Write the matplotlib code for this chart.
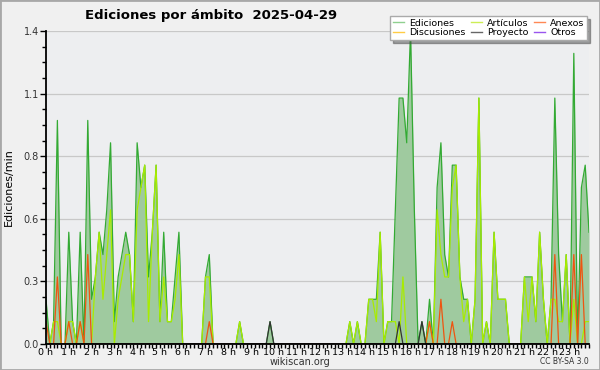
import numpy as np
import matplotlib.pyplot as plt
from matplotlib.lines import Line2D
from matplotlib.patches import Rectangle
from matplotlib.ticker import FixedLocator, MultipleLocator, FormatStrFormatter

# edits per minute, one value per 10-minute slot (6 per hour, one row per hour)
total = [
    0.2, 0.0, 0.1, 1.0, 0.0, 0.0,
    0.5, 0.1, 0.0, 0.5, 0.0, 1.0,
    0.2, 0.3, 0.5, 0.4, 0.6, 0.9,
    0.1, 0.3, 0.4, 0.5, 0.4, 0.1,
    0.9, 0.7, 0.8, 0.3, 0.5, 0.8,
    0.1, 0.5, 0.1, 0.1, 0.3, 0.5,
    0.0, 0.0, 0.0, 0.0, 0.0, 0.0,
    0.3, 0.4, 0.0, 0.0, 0.0, 0.0,
    0.0, 0.0, 0.0, 0.1, 0.0, 0.0,
    0.0, 0.0, 0.0, 0.0, 0.0, 0.1,
    0.0, 0.0, 0.0, 0.0, 0.0, 0.0,
    0.0, 0.0, 0.0, 0.0, 0.0, 0.0,
    0.0, 0.0, 0.0, 0.0, 0.0, 0.0,
    0.0, 0.0, 0.1, 0.0, 0.1, 0.0,
    0.0, 0.2, 0.2, 0.2, 0.5, 0.0,
    0.1, 0.1, 0.6, 1.1, 1.1, 0.9,
    1.4, 0.6, 0.0, 0.1, 0.0, 0.2,
    0.0, 0.7, 0.9, 0.4, 0.3, 0.8,
    0.8, 0.3, 0.2, 0.2, 0.0, 0.2,
    1.1, 0.0, 0.1, 0.0, 0.5, 0.2,
    0.2, 0.2, 0.0, 0.0, 0.0, 0.0,
    0.3, 0.3, 0.3, 0.1, 0.5, 0.2,
    0.0, 0.2, 1.1, 0.4, 0.1, 0.4,
    0.0, 1.3, 0.0, 0.7, 0.8, 0.5,
]
articulos = [
    0.0, 0.0, 0.1, 0.1, 0.0, 0.0,
    0.1, 0.1, 0.0, 0.1, 0.0, 0.0,
    0.0, 0.3, 0.5, 0.2, 0.4, 0.6,
    0.0, 0.2, 0.3, 0.4, 0.4, 0.1,
    0.6, 0.7, 0.8, 0.1, 0.5, 0.8,
    0.1, 0.3, 0.1, 0.1, 0.2, 0.4,
    0.0, 0.0, 0.0, 0.0, 0.0, 0.0,
    0.3, 0.3, 0.0, 0.0, 0.0, 0.0,
    0.0, 0.0, 0.0, 0.1, 0.0, 0.0,
    0.0, 0.0, 0.0, 0.0, 0.0, 0.0,
    0.0, 0.0, 0.0, 0.0, 0.0, 0.0,
    0.0, 0.0, 0.0, 0.0, 0.0, 0.0,
    0.0, 0.0, 0.0, 0.0, 0.0, 0.0,
    0.0, 0.0, 0.1, 0.0, 0.1, 0.0,
    0.0, 0.2, 0.2, 0.1, 0.5, 0.0,
    0.1, 0.1, 0.1, 0.0, 0.3, 0.0,
    0.0, 0.0, 0.0, 0.0, 0.0, 0.1,
    0.0, 0.6, 0.4, 0.3, 0.3, 0.7,
    0.8, 0.3, 0.1, 0.2, 0.0, 0.2,
    1.1, 0.0, 0.1, 0.0, 0.5, 0.2,
    0.2, 0.2, 0.0, 0.0, 0.0, 0.0,
    0.3, 0.1, 0.3, 0.1, 0.5, 0.2,
    0.0, 0.2, 0.2, 0.1, 0.1, 0.4,
    0.0, 0.2, 0.0, 0.0, 0.1, 0.1,
]
anexos = [
    0.1, 0.0, 0.0, 0.3, 0.0, 0.0,
    0.1, 0.0, 0.0, 0.1, 0.0, 0.4,
    0.0, 0.0, 0.0, 0.0, 0.0, 0.0,
    0.0, 0.0, 0.0, 0.0, 0.0, 0.0,
    0.0, 0.0, 0.0, 0.0, 0.0, 0.0,
    0.0, 0.0, 0.0, 0.0, 0.0, 0.0,
    0.0, 0.0, 0.0, 0.0, 0.0, 0.0,
    0.0, 0.1, 0.0, 0.0, 0.0, 0.0,
    0.0, 0.0, 0.0, 0.0, 0.0, 0.0,
    0.0, 0.0, 0.0, 0.0, 0.0, 0.0,
    0.0, 0.0, 0.0, 0.0, 0.0, 0.0,
    0.0, 0.0, 0.0, 0.0, 0.0, 0.0,
    0.0, 0.0, 0.0, 0.0, 0.0, 0.0,
    0.0, 0.0, 0.0, 0.0, 0.0, 0.0,
    0.0, 0.0, 0.0, 0.0, 0.0, 0.0,
    0.0, 0.0, 0.0, 0.0, 0.0, 0.0,
    0.0, 0.0, 0.0, 0.0, 0.0, 0.1,
    0.0, 0.0, 0.2, 0.0, 0.0, 0.1,
    0.0, 0.0, 0.0, 0.0, 0.0, 0.0,
    0.0, 0.0, 0.0, 0.0, 0.0, 0.0,
    0.0, 0.0, 0.0, 0.0, 0.0, 0.0,
    0.0, 0.0, 0.0, 0.0, 0.0, 0.0,
    0.0, 0.0, 0.4, 0.0, 0.0, 0.0,
    0.0, 0.4, 0.0, 0.4, 0.0, 0.0,
]
proyecto = [
    0.0, 0.0, 0.0, 0.0, 0.0, 0.0,
    0.0, 0.0, 0.0, 0.0, 0.0, 0.0,
    0.0, 0.0, 0.0, 0.0, 0.0, 0.0,
    0.0, 0.0, 0.0, 0.0, 0.0, 0.0,
    0.0, 0.0, 0.0, 0.0, 0.0, 0.0,
    0.0, 0.0, 0.0, 0.0, 0.0, 0.0,
    0.0, 0.0, 0.0, 0.0, 0.0, 0.0,
    0.0, 0.0, 0.0, 0.0, 0.0, 0.0,
    0.0, 0.0, 0.0, 0.0, 0.0, 0.0,
    0.0, 0.0, 0.0, 0.0, 0.0, 0.1,
    0.0, 0.0, 0.0, 0.0, 0.0, 0.0,
    0.0, 0.0, 0.0, 0.0, 0.0, 0.0,
    0.0, 0.0, 0.0, 0.0, 0.0, 0.0,
    0.0, 0.0, 0.0, 0.0, 0.0, 0.0,
    0.0, 0.0, 0.0, 0.0, 0.0, 0.0,
    0.0, 0.0, 0.0, 0.1, 0.0, 0.0,
    0.0, 0.0, 0.0, 0.1, 0.0, 0.0,
    0.0, 0.0, 0.0, 0.0, 0.0, 0.0,
    0.0, 0.0, 0.0, 0.0, 0.0, 0.0,
    0.0, 0.0, 0.0, 0.0, 0.0, 0.0,
    0.0, 0.0, 0.0, 0.0, 0.0, 0.0,
    0.0, 0.0, 0.0, 0.0, 0.0, 0.0,
    0.0, 0.0, 0.0, 0.0, 0.0, 0.0,
    0.0, 0.0, 0.0, 0.0, 0.0, 0.0,
]
# discusiones / otros: nothing visible above zero on this day
discusiones = [0.0] * len(total)
otros = [0.0] * len(total)

hour_labels = ['%d h' % h for h in range(24)]
y_ticks = [0.0, 0.28, 0.56, 0.84, 1.12, 1.4]

narrow = ['Liberation Sans Narrow', 'DejaVu Sans']

fig = plt.figure(figsize=(6, 3.7), dpi=100, facecolor='#f0f0f0')
ax = fig.add_axes([46/600, 1 - 344/370, 543/600, 313/370])
ax.set_facecolor('#edeef0')

hours = np.arange(len(total)) / 6
ax.fill_between(hours, total, color='#9fca9f', lw=0, zorder=1)
ax.plot(hours, total, color='#33aa33', lw=0.9, zorder=2)
ax.plot(hours, articulos, color='#a8ec00', lw=0.9, zorder=2)
ax.plot(hours, discusiones, color='#ffcc33', lw=0.9, zorder=2)
ax.plot(hours, anexos, color='#ee5511', lw=0.9, zorder=2)
ax.plot(hours, proyecto, color='#333333', lw=0.9, zorder=2)
ax.plot(hours, otros, color='#8844dd', lw=0.9, zorder=2)

ax.set_xlim(0, hours[-1])
ax.set_ylim(0, 1.4)

ax.xaxis.set_major_locator(FixedLocator(range(24)))
ax.set_xticklabels(hour_labels, family=narrow, fontsize=6.8)
ax.xaxis.set_minor_locator(MultipleLocator(1/6))
ax.yaxis.set_major_locator(FixedLocator(y_ticks))
ax.yaxis.set_major_formatter(FormatStrFormatter('%.1f'))
ax.yaxis.set_minor_locator(MultipleLocator(0.07))
for lab in ax.get_yticklabels():
    lab.set_family(narrow)

ax.tick_params(axis='x', which='both', length=2.8, width=1, pad=0, colors='black')
ax.tick_params(axis='y', which='major', length=4, width=1, pad=1, labelsize=7, labelcolor='#333333')
ax.tick_params(axis='y', which='minor', length=3, width=1)

ax.yaxis.grid(True, color='#c8c8c8', lw=0.9)
ax.set_axisbelow(True)
for side in ['top', 'right']:
    ax.spines[side].set_visible(False)
for side in ['left', 'bottom']:
    ax.spines[side].set_linewidth(1.3)
    ax.spines[side].set_zorder(3)

ax.set_ylabel('Ediciones/min', fontsize=8, labelpad=7)

fig.text(85/600, 1 - 16/370, 'Ediciones por ámbito  2025-04-29', fontsize=9.5,
         fontweight='bold', ha='left', va='center')

handles = [
    Line2D([], [], color='#8fd08f', lw=1),
    Line2D([], [], color='#ffcc44', lw=1),
    Line2D([], [], color='#ccee55', lw=1),
    Line2D([], [], color='#666666', lw=1),
    Line2D([], [], color='#ff8855', lw=1),
    Line2D([], [], color='#9955ee', lw=1),
]
labels = ['Ediciones', 'Discusiones', 'Artículos', 'Proyecto', 'Anexos', 'Otros']
leg = fig.legend(handles, labels, ncol=3, loc='upper right',
                 bbox_to_anchor=(592/600, 1 - 11/370), fontsize=6.8,
                 frameon=True, fancybox=False, shadow=True, handlelength=1.2,
                 handletextpad=0.5, columnspacing=0.6, borderpad=0.3,
                 labelspacing=0.05)
leg.get_frame().set_edgecolor('#aaaaaa')
leg.get_frame().set_facecolor('white')

fig.text(0.5, 1 - 362/370, 'wikiscan.org', fontsize=7, ha='center', va='center', color='#333333')
fig.text(589/600, 1 - 362/370, 'CC BY-SA 3.0', fontsize=5.5, ha='right', va='center', color='#333333')

fig.patches.append(Rectangle((0, 0), 1, 1, transform=fig.transFigure, fill=False,
                             edgecolor='#a8a8a8', lw=2))

fig.savefig('out.png', dpi=100, facecolor=fig.get_facecolor())
